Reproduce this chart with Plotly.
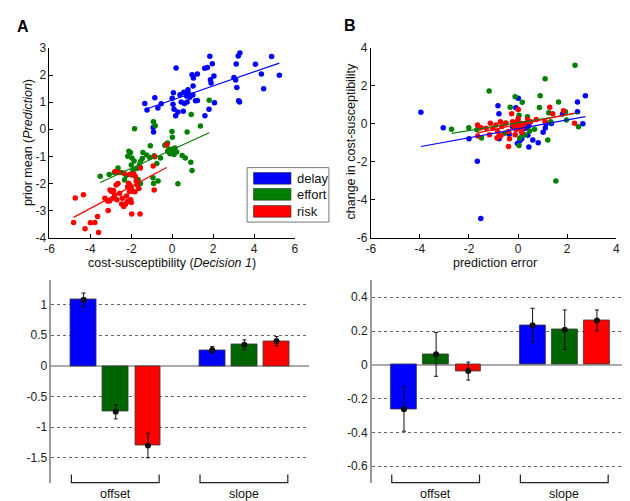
import plotly.graph_objects as go

W, H = 630, 501

cost_types = ["delay", "effort", "risk"]
scatter_colors = ["#0000FF", "#008000", "#FF0000"]
bar_colors = ["#0000FF", "#006400", "#FF0000"]
param_groups = ["offset", "slope"]

# ---------------- Panel A scatter: cost-susceptibility vs prior mean ----------------
a_delay_x = [-1.34, -1.23, -0.85, -0.70, -0.54, -0.93, -0.91, 0.06, 0.19, 0.04, 0.09, 0.17, 0.28, 0.54,
             0.44, 0.38, 0.57, 0.77, 0.78, 0.73, 0.70, 0.86, 0.97, 1.04, 1.02, 1.01, 1.14, 1.23, 1.23,
             1.59, 1.72, 1.84, 1.96, 1.87, 1.90, 2.04, 2.07, 1.80, 1.60, 3.02, 3.10, 3.16, 3.13, 3.23,
             3.31, 3.25, 3.29, 4.07, 4.36, 4.47, 4.86, 5.24, 0.00, 0.60]
a_delay_y = [0.95, 0.71, 1.16, 0.79, 0.94, 0.07, -0.10, 1.35, 2.26, 0.92, 0.74, 0.50, 0.64, 0.67,
             1.01, 1.28, 1.37, 1.46, 1.34, 1.01, 1.23, 1.18, 2.01, 1.89, 1.60, 1.27, 1.05, 2.04, 1.06,
             2.25, 2.28, 2.70, 2.42, 1.83, 1.71, 1.97, 0.98, 0.74, 0.50, 1.91, 1.82, 1.54, 2.41, 2.71,
             2.82, 1.05, 1.01, 2.40, 2.04, 1.50, 2.69, 2.00, 1.15, 0.95]

a_effort_x = [1.81, 0.93, 1.38, 0.73, -0.01, 0.01, -0.36, -0.28, -0.15, -0.06, 0.04, 0.14, -0.22, -0.11,
              0.09, 0.22, 0.49, 0.64, 0.91, 0.97, 0.28, -0.57, -0.88, -0.75, -1.10, -1.25, -1.07, -1.43,
              -1.46, -1.60, -1.55, -1.86, -1.97, -2.12, -2.04, -2.17, -2.00, -1.74, -1.92, -1.97, -2.25,
              -2.33, -1.55, -1.67, -0.91, -0.69, -0.94, -2.49, -2.65, -2.83, -3.08, -3.52, -1.84, -0.92,
              -0.83, -0.23]
a_effort_y = [1.07, 0.55, 0.12, -0.10, -0.08, -0.29, -0.59, -0.54, -0.73, -0.82, -0.73, -0.69, -0.81, -0.90,
              -0.93, -0.84, -0.97, -1.06, -1.22, -1.52, -2.01, -1.06, -0.98, -1.26, -1.04, -0.95, -0.61, -0.86,
              -1.08, -1.31, -1.19, -1.17, -1.06, -0.81, -0.86, -1.00, -1.32, -1.45, -1.52, -1.69, -1.71,
              -1.87, -2.00, -1.85, -2.00, -1.91, -1.79, -1.60, -1.43, -1.60, -1.67, -1.73, 0.02, 0.28,
              0.13, -0.51]

a_risk_x = [-0.27, -0.85, -0.88, -0.93, -1.55, -1.57, -1.98, -2.36, -2.08, -1.88, -1.80, -1.76, -1.72, -1.63,
            -1.82, -1.94, -2.07, -2.13, -2.18, -2.00, -2.09, -2.23, -2.03, -2.00, -2.19, -2.28, -2.37, -2.44,
            -2.57, -2.74, -2.65, -2.87, -2.97, -3.04, -2.81, -2.70, -2.89, -3.16, -3.29, -3.06, -3.13, -2.65,
            -2.79, -4.00, -4.34, -4.74, -4.82, -4.26, -3.60, -3.65, -3.78, -2.47]
a_risk_y = [-0.57, -1.01, -2.24, -1.36, -1.43, -3.13, -3.13, -1.62, -1.67, -1.64, -1.74, -1.91, -2.06, -2.19,
            -2.31, -2.29, -2.06, -1.99, -2.12, -2.18, -2.30, -2.46, -2.60, -2.70, -2.67, -2.77, -2.85, -2.55,
            -2.36, -2.06, -2.00, -2.26, -2.30, -2.24, -2.42, -2.60, -2.55, -2.65, -2.55, -2.65, -3.00, -1.60,
            -1.56, -3.45, -2.42, -2.54, -3.44, -3.67, -3.81, -3.22, -3.44, -2.76]

# ---------------- Panel B scatter: prediction error vs change in cost-susceptibility ----------------
b_delay_x = [-3.96, -3.05, -2.00, -1.66, -1.52, -0.82, -0.78, -0.77, -0.09, 0.01, -0.36, -0.23, -0.07, 0.07,
             -0.03, 0.07, 0.15, 0.28, 0.34, 0.44, 0.40, 0.44, 0.60, 0.82, 1.11, 1.14, 1.36, 1.02, 1.81,
             2.42, 2.42, 2.64, 2.74, 0.20, 0.24]
b_delay_y = [0.61, -0.21, -0.79, -1.97, -4.99, 0.95, 0.54, -0.79, 0.85, 1.35, -0.55, -0.14, -0.19, -0.05,
             -1.03, -0.91, -0.79, -0.14, -0.22, -0.10, -0.60, -1.22, -0.85, -1.00, -0.22, -0.01, 0.02, -0.44, 0.52,
             0.64, 1.16, 0.01, 1.49, -0.12, -0.25]

b_effort_x = [-2.71, -2.01, -1.68, -1.49, -1.18, -0.50, -0.32, -0.12, 0.17, 0.04, 0.11, 0.07, 0.04, 0.17,
              0.28, 0.38, 0.47, 0.67, 0.87, 0.90, 1.10, 1.21, 1.25, 1.33, 1.65, 1.54, 1.93, 1.97, 2.32,
              2.46, -0.55]
b_effort_y = [-0.29, -0.20, -0.31, -0.75, 1.74, 0.04, 0.88, 1.43, 1.14, 0.46, 0.03, -0.74, -1.14, -0.60,
              -0.57, 0.37, -0.38, -0.29, 0.86, 1.49, 2.38, -0.85, 0.59, 0.11, 1.16, -3.02, 0.64, 0.20, 3.09,
              -0.15, -0.49]

b_risk_x = [-1.64, -1.65, -1.51, -1.13, -1.30, -1.03, -1.17, -0.90, -0.83, -0.79, -0.86, -0.72, -0.66, -0.50,
            -0.39, -0.35, -0.39, -0.26, -0.23, -0.17, -0.12, -0.07, -0.05, 0.00, 0.01, 0.05, 0.08, 0.12,
            0.15, 0.20, 0.26, 0.39, 0.51, 0.74, 1.10, 1.29, 1.41, 1.85, 2.30, -0.12, -0.70]
b_risk_y = [-0.64, -0.06, -0.20, 0.03, -0.23, -0.23, -0.57, -0.06, -0.40, -0.66, -0.74, 0.11, -0.14, 0.03,
            -0.40, -0.79, -1.20, 0.54, 0.11, -0.06, -0.23, -0.31, 0.11, 0.27, 0.76, -0.14, 0.01, -0.26,
            -0.44, -0.16, 0.01, 0.23, 0.11, 0.23, 0.11, 0.88, 0.54, 0.69, 0.03, -0.57, -0.61]

# ---------------- Regression parameters (bar panels) ----------------
a_offset = [1.08, -0.75, -1.30]
a_offset_err = [0.11, 0.115, 0.20]
a_slope = [0.26, 0.345, 0.405]
a_slope_err = [0.055, 0.08, 0.075]

b_offset = [-0.263, 0.062, -0.037]
b_offset_err = [0.13, 0.13, 0.053]
b_slope = [0.235, 0.208, 0.263]
b_slope_err = [0.10, 0.117, 0.062]

# tick labels
a_sc_xticks = [-6, -4, -2, 0, 2, 4, 6]
a_sc_yticks = [-4, -3, -2, -1, 0, 1, 2, 3]
b_sc_xticks = [-6, -4, -2, 0, 2, 4]
b_sc_yticks = [-6, -4, -2, 0, 2, 4]
a_bar_yticks = [-1.5, -1, -0.5, 0, 0.5, 1]
b_bar_yticks = [-0.6, -0.4, -0.2, 0, 0.2, 0.4]


def lbl(v):
    s = ("%g" % v)
    return s


def px_x(p):
    return p / W


def px_y(p):
    return 1 - p / H


FONT = "Liberation Sans, Arial, sans-serif"
fig = go.Figure()

scatter_sets = [
    ("x", "y", [(a_delay_x, a_delay_y), (a_effort_x, a_effort_y), (a_risk_x, a_risk_y)], a_offset, a_slope),
    ("x2", "y2", [(b_delay_x, b_delay_y), (b_effort_x, b_effort_y), (b_risk_x, b_risk_y)], b_offset, b_slope),
]
for xa, ya, sets, offs, slopes in scatter_sets:
    for i, (xs, ys) in enumerate(sets):
        fig.add_trace(go.Scatter(x=xs, y=ys, mode="markers", xaxis=xa, yaxis=ya,
                                 marker=dict(size=5.5, color=scatter_colors[i], line=dict(width=0)),
                                 showlegend=False, hoverinfo="skip"))
    for i, (xs, ys) in enumerate(sets):
        lx = [min(xs), max(xs)]
        ly = [offs[i] + slopes[i] * v for v in lx]
        fig.add_trace(go.Scatter(x=lx, y=ly, mode="lines", xaxis=xa, yaxis=ya,
                                 line=dict(color=scatter_colors[i], width=1.2),
                                 showlegend=False, hoverinfo="skip"))

bar_sets = [
    ("x3", "y3", a_offset, a_offset_err, a_slope, a_slope_err),
    ("x4", "y4", b_offset, b_offset_err, b_slope, b_slope_err),
]
for xa, ya, offs, offe, slp, slpe in bar_sets:
    for i in range(3):
        xs = [g * 4 + i + 1 for g in range(len(param_groups))]
        ys = [offs[i], slp[i]]
        es = [offe[i], slpe[i]]
        fig.add_trace(go.Bar(x=xs, y=ys, xaxis=xa, yaxis=ya, width=0.8,
                             marker=dict(color=bar_colors[i], line=dict(color="#3a3a3a", width=0.8)),
                             error_y=dict(type="data", array=es, visible=True, color="#111",
                                          thickness=1, width=2),
                             showlegend=False, hoverinfo="skip"))
        fig.add_trace(go.Scatter(x=xs, y=ys, mode="markers", xaxis=xa, yaxis=ya,
                                 marker=dict(size=6, color="#111"), showlegend=False, hoverinfo="skip"))

tickfont = dict(family=FONT, size=12, color="#222")
sc_axis = dict(showline=True, linecolor="#000", linewidth=1, ticks="inside", ticklen=4,
               tickcolor="#000", showgrid=False, zeroline=False, tickfont=tickfont, mirror=False)

fig.update_layout(
    width=W, height=H, autosize=False, margin=dict(l=0, r=0, t=0, b=0),
    paper_bgcolor="white", plot_bgcolor="white", bargap=0, barmode="overlay",
    xaxis=dict(domain=[px_x(37), px_x(286)], range=[-6, 6], anchor="y",
               tickvals=a_sc_xticks, ticktext=[lbl(v) for v in a_sc_xticks], **sc_axis),
    yaxis=dict(domain=[px_y(229), px_y(34)], range=[-4, 3], anchor="x",
               tickvals=a_sc_yticks, ticktext=[lbl(v) for v in a_sc_yticks], **sc_axis),
    xaxis2=dict(domain=[px_x(363), px_x(612)], range=[-6, 4], anchor="y2",
                tickvals=b_sc_xticks, ticktext=[lbl(v) for v in b_sc_xticks], **sc_axis),
    yaxis2=dict(domain=[px_y(229), px_y(34)], range=[-6, 4], anchor="x2",
                tickvals=b_sc_yticks, ticktext=[lbl(v) for v in b_sc_yticks], **sc_axis),
)

bar_y_common = dict(showline=True, linecolor="#999", linewidth=1.5, ticks="", showgrid=True,
                    gridcolor="#666", griddash="dot", gridwidth=1, zeroline=True,
                    zerolinecolor="#aaa", zerolinewidth=2.2, tickfont=tickfont)
bar_x_common = dict(range=[0, 8], visible=False, showgrid=False, zeroline=False)
fig.update_layout(
    xaxis3=dict(domain=[px_x(39), px_x(300)], anchor="y3", **bar_x_common),
    yaxis3=dict(domain=[px_y(481), px_y(273)], range=[-1.905, 1.397], anchor="x3",
                tickvals=a_bar_yticks, ticktext=[lbl(v) for v in a_bar_yticks], **bar_y_common),
    xaxis4=dict(domain=[px_x(364), px_x(625)], anchor="y4", **bar_x_common),
    yaxis4=dict(domain=[px_y(481), px_y(273)], range=[-0.697, 0.5], anchor="x4",
                tickvals=b_bar_yticks, ticktext=[lbl(v) for v in b_bar_yticks], **bar_y_common),
)

shapes = []
annotations = []
# group brackets under bar panels
for xa in ["x3", "x4"]:
    for g, name in enumerate(param_groups):
        x0 = g * 4 + 1 - 0.38
        x1 = g * 4 + 3 + 0.35
        yr = xa.replace("x", "y") + " domain"
        shapes.append(dict(type="path", xref=xa, yref=yr,
                           path=f"M {x0},0.04 L {x0},0 L {x1},0 L {x1},0.04",
                           line=dict(color="#222", width=1.2)))
        annotations.append(dict(xref=xa, yref="paper", x=(x0 + x1) / 2, y=px_y(493), text=name,
                                showarrow=False, font=dict(family=FONT, size=12.5, color="#111"),
                                xanchor="center", yanchor="middle"))

# axis titles
title_font = dict(family=FONT, size=12.5, color="#111")
annotations += [
    dict(xref="paper", yref="paper", x=px_x(161.5), y=px_y(255), text="cost-susceptibility (<i>Decision 1</i>)",
         showarrow=False, font=title_font, xanchor="center", yanchor="middle"),
    dict(xref="paper", yref="paper", x=px_x(489), y=px_y(255), text="prediction error",
         showarrow=False, font=title_font, xanchor="center", yanchor="middle"),
    dict(xref="paper", yref="paper", x=px_x(16), y=px_y(131), text="prior mean (<i>Prediction</i>)",
         showarrow=False, font=title_font, textangle=-90, xanchor="center", yanchor="middle"),
    dict(xref="paper", yref="paper", x=px_x(343), y=px_y(130), text="change in cost-susceptibility",
         showarrow=False, font=title_font, textangle=-90, xanchor="center", yanchor="middle"),
    dict(xref="paper", yref="paper", x=px_x(10), y=px_y(12), text="<b>A</b>",
         showarrow=False, font=dict(family=FONT, size=16, color="#000"), xanchor="center", yanchor="middle"),
    dict(xref="paper", yref="paper", x=px_x(342), y=px_y(11), text="<b>B</b>",
         showarrow=False, font=dict(family=FONT, size=16, color="#000"), xanchor="center", yanchor="middle"),
]

# custom legend (box with colour patches)
shapes.append(dict(type="rect", xref="paper", yref="paper", x0=px_x(237.5), x1=px_x(320.5),
                   y0=px_y(213), y1=px_y(157), line=dict(color="#777", width=1), fillcolor="white",
                   layer="above"))
leg_rows = [168, 184.5, 202]
for i, name in enumerate(cost_types):
    yc = leg_rows[i]
    shapes.append(dict(type="rect", xref="paper", yref="paper", x0=px_x(244), x1=px_x(282),
                       y0=px_y(yc + 6), y1=px_y(yc - 6), fillcolor=scatter_colors[i],
                       line=dict(color="#333", width=0.6), layer="above"))
    annotations.append(dict(xref="paper", yref="paper", x=px_x(286), y=px_y(yc), text=name,
                            showarrow=False, font=dict(family=FONT, size=13, color="#111"),
                            xanchor="left", yanchor="middle"))

fig.update_layout(shapes=shapes, annotations=annotations)
fig.write_html("out.html")
